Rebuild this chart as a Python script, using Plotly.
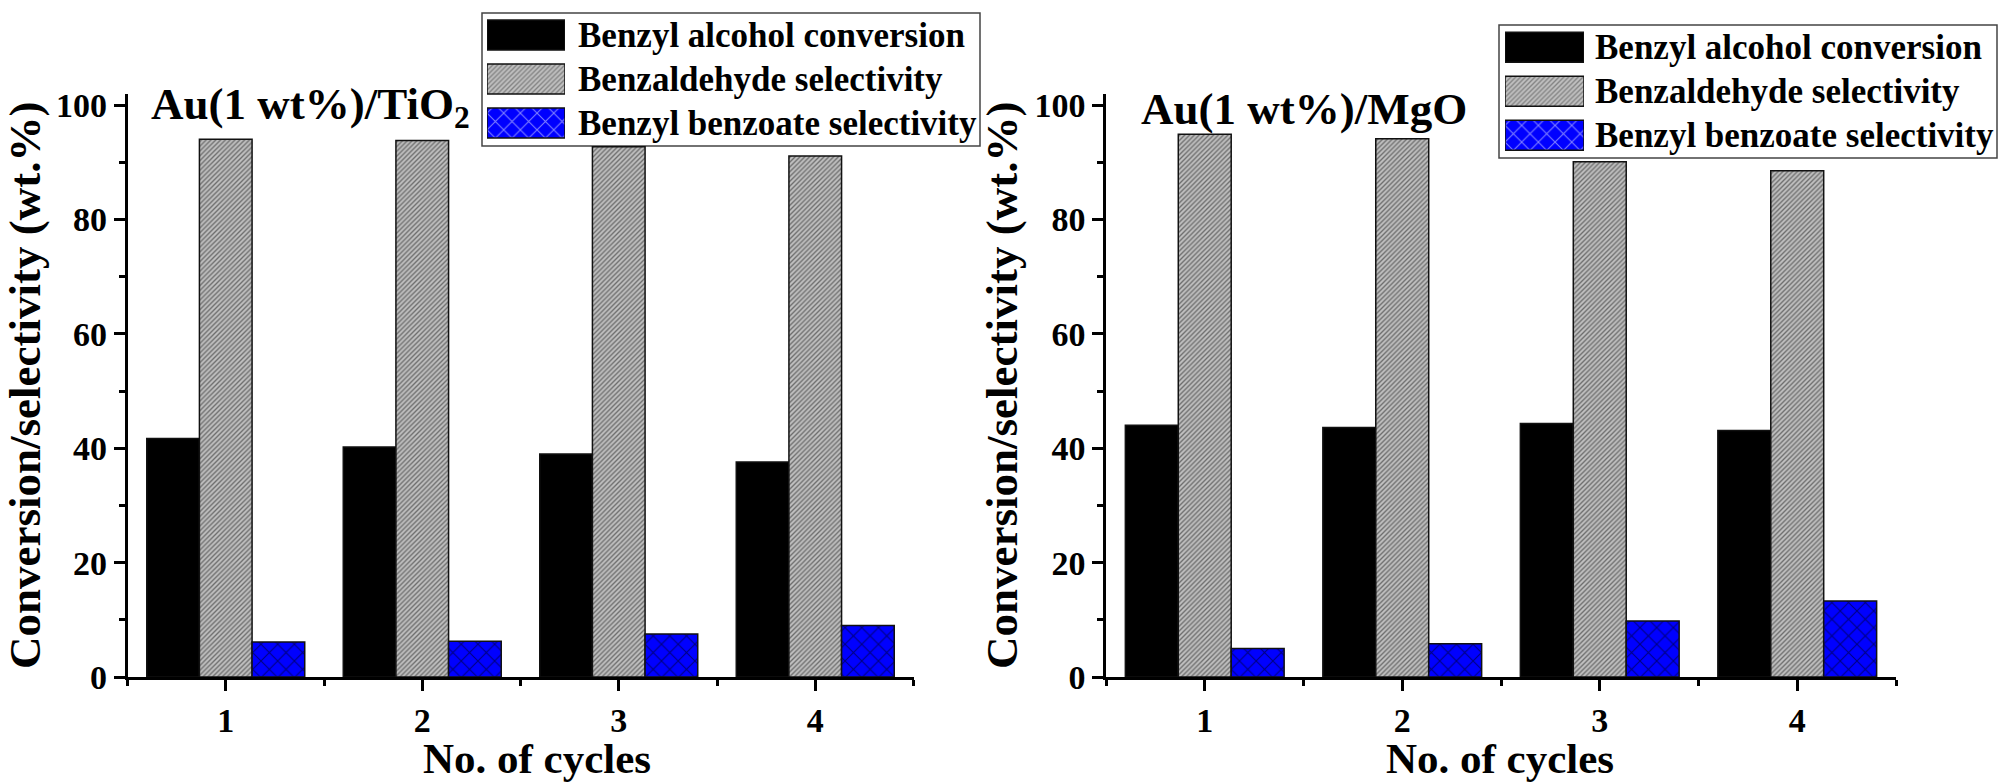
import plotly.graph_objects as go

# ---------------- data ----------------
cycles = [1, 2, 3, 4]
series_names = ["Benzyl alcohol conversion", "Benzaldehyde selectivity", "Benzyl benzoate selectivity"]

tio2_conversion = [41.7, 40.2, 39.0, 37.6]
tio2_benzaldehyde = [94.0, 93.8, 92.7, 91.1]
tio2_benzoate = [6.1, 6.25, 7.5, 9.0]

mgo_conversion = [44.0, 43.6, 44.3, 43.1]
mgo_benzaldehyde = [94.9, 94.1, 90.1, 88.5]
mgo_benzoate = [5.0, 5.8, 9.8, 13.3]

panel_titles = ["Au(1 wt%)/TiO<sub>2</sub>", "Au(1 wt%)/MgO"]
x_title = "No. of cycles"
y_title = "Conversion/selectivity (wt.%)"
legend_rows = [0, 1, 2]
legend_swatch_len = [1, 1, 1]

# ---------------- styles ----------------
W, H = 1999, 784
FONT = "Liberation Serif"

def px(x):
    return x / W

def py(y):
    return 1 - y / H

fills = ["#000000", "#c0c0c0", "#0000ff"]
pat_shape = ["", "/", "x"]
pat_fg = ["#000000", "#1a1a1a", "#000000"]
pat_size = [8, 3.4, 11.8]
pat_sol = [0.3, 0.4, 0.17]
bar_line = dict(color="#111111", width=1.5)

fig = go.Figure()

panels = [
    (tio2_conversion, tio2_benzaldehyde, tio2_benzoate, "x", "y"),
    (mgo_conversion, mgo_benzaldehyde, mgo_benzoate, "x2", "y2"),
]
for vals_c, vals_a, vals_b, xa, ya in panels:
    for i, vals in enumerate([vals_c, vals_a, vals_b]):
        fig.add_trace(go.Bar(
            x=cycles, y=vals, name=series_names[i], showlegend=False,
            xaxis=xa, yaxis=ya,
            marker=dict(color=fills[i], line=bar_line,
                        pattern=dict(shape=pat_shape[i], fgcolor=pat_fg[i],
                                     bgcolor=fills[i],
                                     size=pat_size[i], solidity=pat_sol[i],
                                     fillmode="overlay")),
        ))

# legend swatches drawn as bars on hidden axes
for xa, ya in [("x3", "y3"), ("x4", "y4")]:
    fig.add_trace(go.Bar(
        y=legend_rows, x=legend_swatch_len, orientation="h", width=0.68,
        showlegend=False, hoverinfo="skip", xaxis=xa, yaxis=ya,
        marker=dict(color=fills, line=bar_line,
                    pattern=dict(shape=pat_shape, fgcolor=pat_fg, bgcolor=fills,
                                 size=pat_size, solidity=pat_sol,
                                 fillmode="overlay")),
    ))

tickfont = dict(family=FONT, size=34, color="black", weight="bold")
titlefont = dict(family=FONT, size=45, color="black", weight="bold")
xtitlefont = dict(family=FONT, size=43, color="black", weight="bold")

def xaxis_cfg(domain):
    return dict(
        domain=domain, range=[0.5, 4.5], tickmode="linear", tick0=1, dtick=1,
        showline=True, linecolor="black", linewidth=2.5, mirror=False,
        ticks="outside", ticklen=11, tickwidth=2.5, tickcolor="black",
        minor=dict(ticks="outside", ticklen=6, tickwidth=2.5, tickcolor="black",
                   tickmode="linear", tick0=0.5, dtick=1),
        showgrid=False, zeroline=False, tickfont=tickfont,
        automargin=False, fixedrange=True,
    )

def yaxis_cfg(domain, anchor):
    return dict(
        domain=domain, anchor=anchor, range=[0, 102], tickmode="linear", tick0=0, dtick=20,
        showline=True, linecolor="black", linewidth=2.5,
        ticks="outside", ticklen=11, tickwidth=2.5, tickcolor="black",
        minor=dict(ticks="outside", ticklen=6, tickwidth=2.5, tickcolor="black",
                   tickmode="linear", tick0=0, dtick=10),
        showgrid=False, zeroline=False, tickfont=tickfont,
        title=dict(text=y_title, font=titlefont, standoff=3),
        automargin=False, fixedrange=True,
    )

y0_px, y100_px = 677.0, 105.0
ydom = [py(y0_px), py(y0_px - 102 * (y0_px - y100_px) / 100)]

fig.update_layout(
    width=W, height=H, autosize=False,
    margin=dict(l=0, r=0, t=0, b=0),
    paper_bgcolor="white", plot_bgcolor="rgba(0,0,0,0)",
    font=dict(family=FONT, color="black"),
    barmode="group", bargap=0.196, bargroupgap=0,
    xaxis=dict(**xaxis_cfg([px(127.5), px(913.5)]), anchor="y"),
    yaxis=yaxis_cfg(ydom, "x"),
    xaxis2=dict(**xaxis_cfg([px(1106), px(1896)]), anchor="y2"),
    yaxis2=yaxis_cfg(ydom, "x2"),
    xaxis3=dict(domain=[px(487), px(565)], range=[0, 1], visible=False, anchor="y3", fixedrange=True),
    yaxis3=dict(domain=[py(145), py(13)], range=[2.5, -0.5], visible=False, anchor="x3", fixedrange=True),
    xaxis4=dict(domain=[px(1505), px(1584)], range=[0, 1], visible=False, anchor="y4", fixedrange=True),
    yaxis4=dict(domain=[py(157.3), py(25.3)], range=[2.5, -0.5], visible=False, anchor="x4", fixedrange=True),
    showlegend=False,
)

# x-axis titles placed under each panel
for cx in [537, 1500]:
    fig.add_annotation(x=px(cx), y=py(783), xref="paper", yref="paper",
                       text=x_title, showarrow=False, xanchor="center", yanchor="bottom",
                       font=xtitlefont, borderpad=0)

# legend boxes
for (x0, x1, y0, y1) in [(482, 980, 13, 146), (1499, 1997, 25, 158)]:
    fig.add_shape(type="rect", xref="paper", yref="paper",
                  x0=px(x0), x1=px(x1), y0=py(y1), y1=py(y0),
                  line=dict(color="#444444", width=1.5), fillcolor="white", layer="below")

legfont = dict(family=FONT, size=35, color="black", weight="bold")
for text_x, yref in [(576, "y3"), (1593, "y4")]:
    for r, name in zip(legend_rows, series_names):
        fig.add_annotation(x=px(text_x), xref="paper", y=r, yref=yref,
                           text=name, showarrow=False, xanchor="left", yanchor="middle",
                           font=legfont)

# panel titles
for title, tx, ty in [(panel_titles[0], 150, 78), (panel_titles[1], 1140, 83)]:
    fig.add_annotation(x=px(tx), y=py(ty), xref="paper", yref="paper",
                       text=title, showarrow=False, xanchor="left", yanchor="top",
                       font=titlefont, borderpad=0)

fig.write_html("out.html")
